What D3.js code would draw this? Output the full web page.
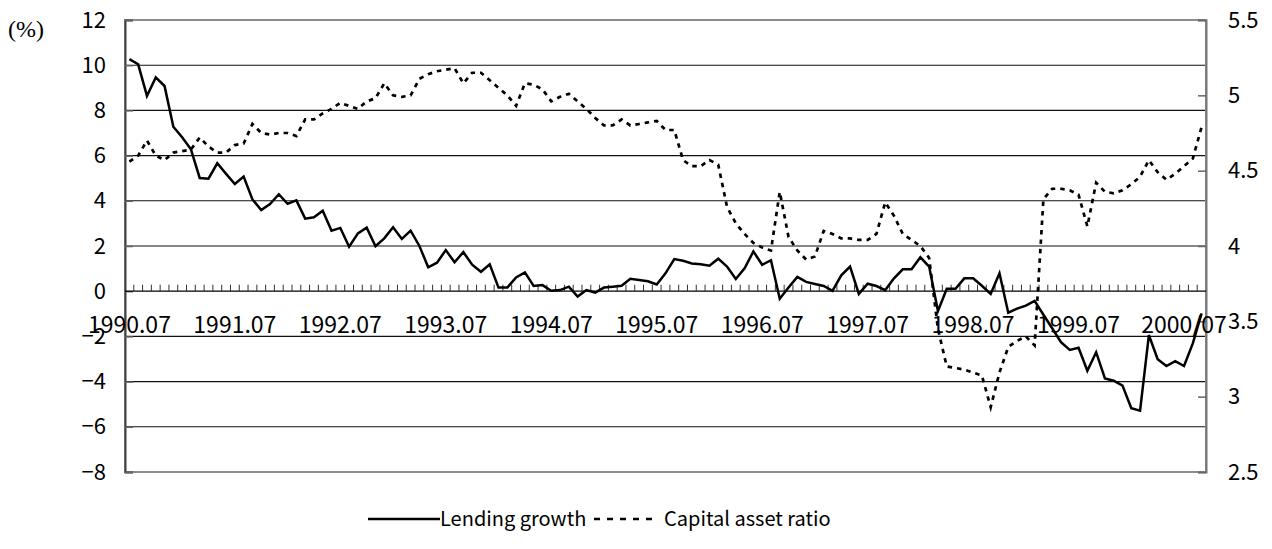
<!DOCTYPE html>
<html>
<head>
<meta charset="utf-8">
<script src="https://cdn.jsdelivr.net/npm/d3@7"></script>
<style>
  body { margin: 0; background: #fff; }
  svg text { font-family: "Noto Sans CJK JP", "Noto Sans", sans-serif; fill: #000; }
</style>
</head>
<body>
<div id="chart"></div>
<script>
var svgWidth = 1272;
var svgHeight = 549;

var margin = { top: 20, bottom: 77, left: 125, right: 66 };
var width = svgWidth - margin.left - margin.right;
var height = svgHeight - margin.top - margin.bottom;

// monthly series, 1990.07 onwards
var lendingGrowth = [
  10.27, 10.04, 8.64, 9.46, 9.08, 7.28, 6.81, 6.28, 5.01, 4.98, 5.66, 5.19, 4.74, 5.07, 4.06, 3.59,
  3.86, 4.29, 3.87, 4.02, 3.21, 3.27, 3.56, 2.68, 2.80, 1.97, 2.56, 2.81, 1.99, 2.34, 2.83, 2.31,
  2.68, 2.00, 1.06, 1.26, 1.82, 1.28, 1.73, 1.17, 0.86,
  1.19, 0.16, 0.16, 0.61, 0.83, 0.23, 0.27, 0.02, 0.05, 0.20, -0.24, 0.05, -0.06, 0.16, 0.20, 0.24,
  0.55, 0.50, 0.44, 0.30, 0.79, 1.42, 1.35, 1.23, 1.19, 1.13, 1.44, 1.09, 0.54, 1.01, 1.76, 1.17,
  1.37, -0.33, 0.16, 0.63, 0.41, 0.32, 0.23, 0.02, 0.70,
  1.09, -0.12, 0.33, 0.23, 0.05, 0.57, 0.97, 0.97, 1.50, 1.09, -0.88, 0.11, 0.11, 0.57, 0.57, 0.24,
  -0.12, 0.79, -0.95, -0.77, -0.64, -0.43, -1.04, -1.64, -2.26, -2.60, -2.50, -3.52, -2.70, -3.86, -3.96, -4.18,
  -5.18, -5.29, -1.94, -3.01, -3.31, -3.10, -3.31, -2.31, -0.98
];

var capitalRatio = [
  4.56, 4.60, 4.70, 4.60, 4.57, 4.62, 4.63, 4.64, 4.72, 4.66, 4.62, 4.62, 4.67, 4.68, 4.81, 4.75,
  4.74, 4.75, 4.75, 4.73, 4.84, 4.84, 4.88, 4.91, 4.95, 4.93, 4.91, 4.96, 4.98, 5.08, 5.00, 4.99,
  5.00, 5.11, 5.14, 5.16, 5.17, 5.18, 5.08, 5.15, 5.15,
  5.10, 5.05, 5.00, 4.93, 5.08, 5.07, 5.04, 4.96, 4.99, 5.01, 4.96, 4.91, 4.85, 4.80, 4.80, 4.84,
  4.80, 4.81, 4.82, 4.83, 4.77, 4.77, 4.57, 4.53, 4.53, 4.57, 4.54, 4.26, 4.15, 4.08, 4.02, 3.99,
  3.97, 4.36, 4.06, 3.97, 3.91, 3.93, 4.10, 4.08, 4.05,
  4.05, 4.04, 4.04, 4.08, 4.29, 4.20, 4.08, 4.04, 4.00, 3.92, 3.45, 3.20, 3.19, 3.18, 3.16, 3.14,
  2.93, 3.16, 3.33, 3.37, 3.40, 3.34, 4.31, 4.38, 4.38, 4.37, 4.34, 4.13, 4.42, 4.36, 4.35, 4.37,
  4.41, 4.46, 4.57, 4.49, 4.44, 4.48, 4.53, 4.58, 4.79
];

var leftTicks = [12, 10, 8, 6, 4, 2, 0, -2, -4, -6, -8];
var rightTicks = [5.5, 5, 4.5, 4, 3.5, 3, 2.5];
var xTickLabels = ["1990.07", "1991.07", "1992.07", "1993.07", "1994.07", "1995.07",
                   "1996.07", "1997.07", "1998.07", "1999.07", "2000/07"];
var seriesNames = ["Lending growth", "Capital asset ratio"];

// category names, one per month
var categories = [];
for (var k = 0; k < lendingGrowth.length; k++) {
  var m = 7 + k;
  var yr = 1990 + Math.floor((m - 1) / 12);
  var mo = ((m - 1) % 12) + 1;
  categories.push(yr + "." + (mo < 10 ? "0" + mo : mo));
}

var svg = d3.select("#chart").append("svg")
  .attr("width", svgWidth)
  .attr("height", svgHeight);

var chartGroup = svg.append("g")
  .attr("transform", `translate(${margin.left}, ${margin.top})`);

var xScale = d3.scaleBand().domain(categories).range([0, width]).padding(0);
var yLeft = d3.scaleLinear().domain([-8, 12]).range([height, 0]);
var yRight = d3.scaleLinear().domain([2.5, 5.5]).range([height, 0]);
var xMid = d => xScale(d) + xScale.bandwidth() / 2;

// gridlines
chartGroup.append("g")
  .selectAll("line")
  .data(leftTicks.filter(d => d != 12 && d != -8 && d != 0))
  .enter()
  .append("line")
  .attr("x1", 0).attr("x2", width)
  .attr("y1", d => yLeft(d)).attr("y2", d => yLeft(d))
  .attr("stroke", "#111")
  .attr("stroke-width", 1.1);

// plot border
chartGroup.append("rect")
  .attr("width", width).attr("height", height)
  .attr("fill", "none")
  .attr("stroke", "#8c8c8c")
  .attr("stroke-width", 2);

// left axis
var leftAxis = d3.axisLeft(yLeft).tickValues(leftTicks).tickSize(-8).tickPadding(19)
  .tickFormat(d => d < 0 ? "\u2212" + Math.abs(d) : d);
var gLeft = chartGroup.append("g").call(leftAxis);
gLeft.select(".domain").attr("stroke", "#404040").attr("stroke-width", 2);
gLeft.selectAll(".tick line").attr("stroke", "#666").attr("stroke-width", 1.5);
gLeft.selectAll("text").style("font-size", "22px");

// right axis
var rightAxis = d3.axisRight(yRight).tickValues(rightTicks).tickSize(-8).tickPadding(22)
  .tickFormat(d => d);
var gRight = chartGroup.append("g").attr("transform", `translate(${width}, 0)`).call(rightAxis);
gRight.select(".domain").attr("stroke", "#777").attr("stroke-width", 2);
gRight.selectAll(".tick line").attr("stroke", "#666").attr("stroke-width", 1.5);
gRight.selectAll("text").style("font-size", "22px");

// category axis on zero line
var y0 = yLeft(0);
var bounds = categories.map(c => xScale(c)).concat([width]);
chartGroup.append("line")
  .attr("x1", 0).attr("x2", width)
  .attr("y1", y0).attr("y2", y0)
  .attr("stroke", "#000").attr("stroke-width", 1.2);
chartGroup.append("g")
  .selectAll("line")
  .data(bounds.slice(1, -1))
  .enter()
  .append("line")
  .attr("x1", d => d).attr("x2", d => d)
  .attr("y1", y0).attr("y2", y0 - 6.5)
  .attr("stroke", "#333").attr("stroke-width", 1);

chartGroup.append("g")
  .selectAll("text")
  .data(xTickLabels)
  .enter()
  .append("text")
  .attr("x", (d, i) => xMid(categories[i * 12]))
  .attr("y", y0 + 42)
  .attr("text-anchor", "middle")
  .style("font-size", "23px")
  .text(d => d);

// series
var lineLeft = d3.line().x((d, i) => xMid(categories[i])).y(d => yLeft(d));
var lineRight = d3.line().x((d, i) => xMid(categories[i])).y(d => yRight(d));

chartGroup.append("path")
  .datum(capitalRatio)
  .attr("d", lineRight)
  .attr("fill", "none")
  .attr("stroke", "#000")
  .attr("stroke-width", 2.7)
  .attr("stroke-dasharray", "4.5,5");

chartGroup.append("path")
  .datum(lendingGrowth)
  .attr("d", lineLeft)
  .attr("fill", "none")
  .attr("stroke", "#000")
  .attr("stroke-width", 2.5)
  .attr("stroke-linejoin", "miter");

// unit label
svg.append("text")
  .attr("x", 8).attr("y", 37)
  .style("font-family", "'Liberation Serif', serif")
  .style("font-size", "24px")
  .text("(%)");

// legend
var legend = svg.append("g").attr("transform", "translate(368, 519)");
legend.append("line")
  .attr("x1", 0).attr("x2", 72).attr("y1", 0).attr("y2", 0)
  .attr("stroke", "#000").attr("stroke-width", 2.5);
legend.append("text")
  .attr("x", 72).attr("y", 7)
  .style("font-size", "20px")
  .text(seriesNames[0]);
legend.append("line")
  .attr("x1", 226).attr("x2", 284).attr("y1", 0).attr("y2", 0)
  .attr("stroke", "#000").attr("stroke-width", 2.5)
  .attr("stroke-dasharray", "6,7");
legend.append("text")
  .attr("x", 296).attr("y", 7)
  .style("font-size", "20px")
  .text(seriesNames[1]);
</script>
</body>
</html>
